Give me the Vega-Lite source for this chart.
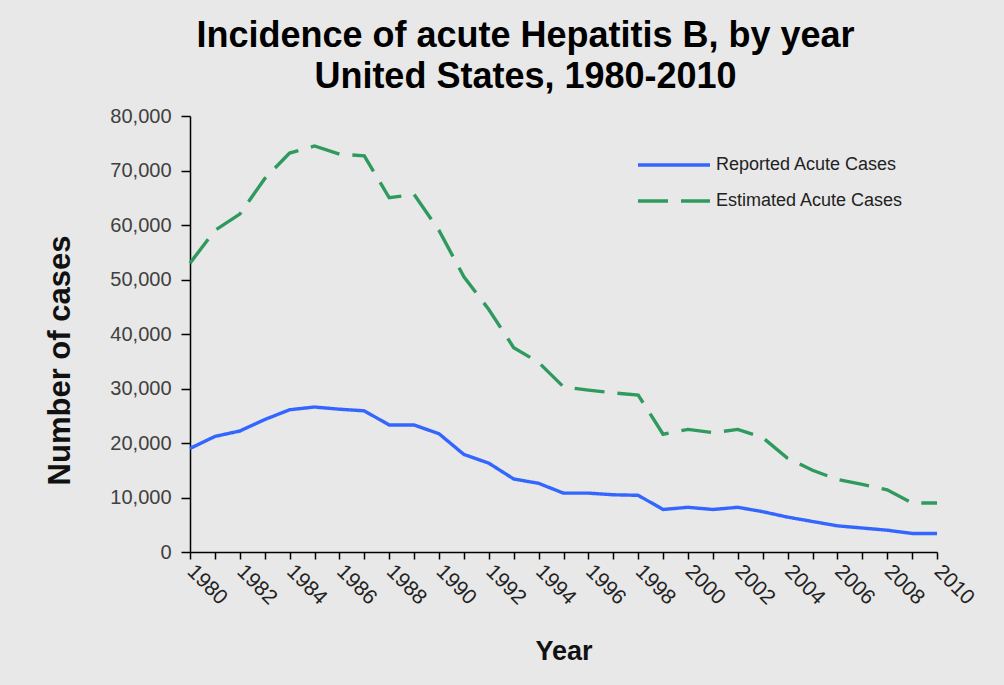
{
  "$schema": "https://vega.github.io/schema/vega-lite/v6.json",
  "width": 747,
  "height": 436,
  "autosize": {"type": "none"},
  "padding": {"left": 190, "top": 116, "right": 67, "bottom": 133},
  "background": "#e8e8e8",
  "config": {
    "view": {"stroke": null},
    "font": "Liberation Sans"
  },
  "title": {
    "text": ["Incidence of acute Hepatitis B, by year", "United States, 1980-2010"],
    "fontSize": 36,
    "fontWeight": "bold",
    "font": "Liberation Sans",
    "color": "#000000",
    "anchor": "middle",
    "dx": -38,
    "offset": 10,
    "lineHeight": 41
  },
  "data": {
    "values": [
      {"year": 1980, "series": "Reported Acute Cases", "cases": 19000},
      {"year": 1981, "series": "Reported Acute Cases", "cases": 21200},
      {"year": 1982, "series": "Reported Acute Cases", "cases": 22200},
      {"year": 1983, "series": "Reported Acute Cases", "cases": 24300},
      {"year": 1984, "series": "Reported Acute Cases", "cases": 26100},
      {"year": 1985, "series": "Reported Acute Cases", "cases": 26600},
      {"year": 1986, "series": "Reported Acute Cases", "cases": 26200},
      {"year": 1987, "series": "Reported Acute Cases", "cases": 25900},
      {"year": 1988, "series": "Reported Acute Cases", "cases": 23300},
      {"year": 1989, "series": "Reported Acute Cases", "cases": 23300},
      {"year": 1990, "series": "Reported Acute Cases", "cases": 21700},
      {"year": 1991, "series": "Reported Acute Cases", "cases": 17900},
      {"year": 1992, "series": "Reported Acute Cases", "cases": 16300},
      {"year": 1993, "series": "Reported Acute Cases", "cases": 13400},
      {"year": 1994, "series": "Reported Acute Cases", "cases": 12600},
      {"year": 1995, "series": "Reported Acute Cases", "cases": 10800},
      {"year": 1996, "series": "Reported Acute Cases", "cases": 10800},
      {"year": 1997, "series": "Reported Acute Cases", "cases": 10500},
      {"year": 1998, "series": "Reported Acute Cases", "cases": 10400},
      {"year": 1999, "series": "Reported Acute Cases", "cases": 7800},
      {"year": 2000, "series": "Reported Acute Cases", "cases": 8200},
      {"year": 2001, "series": "Reported Acute Cases", "cases": 7800},
      {"year": 2002, "series": "Reported Acute Cases", "cases": 8200},
      {"year": 2003, "series": "Reported Acute Cases", "cases": 7400},
      {"year": 2004, "series": "Reported Acute Cases", "cases": 6400},
      {"year": 2005, "series": "Reported Acute Cases", "cases": 5600},
      {"year": 2006, "series": "Reported Acute Cases", "cases": 4800},
      {"year": 2007, "series": "Reported Acute Cases", "cases": 4400},
      {"year": 2008, "series": "Reported Acute Cases", "cases": 4000},
      {"year": 2009, "series": "Reported Acute Cases", "cases": 3400},
      {"year": 2010, "series": "Reported Acute Cases", "cases": 3400},
      {"year": 1980, "series": "Estimated Acute Cases", "cases": 53000},
      {"year": 1981, "series": "Estimated Acute Cases", "cases": 59000},
      {"year": 1982, "series": "Estimated Acute Cases", "cases": 62000},
      {"year": 1983, "series": "Estimated Acute Cases", "cases": 68500},
      {"year": 1984, "series": "Estimated Acute Cases", "cases": 73200},
      {"year": 1985, "series": "Estimated Acute Cases", "cases": 74500},
      {"year": 1986, "series": "Estimated Acute Cases", "cases": 73000},
      {"year": 1987, "series": "Estimated Acute Cases", "cases": 72700},
      {"year": 1988, "series": "Estimated Acute Cases", "cases": 65000},
      {"year": 1989, "series": "Estimated Acute Cases", "cases": 65600},
      {"year": 1990, "series": "Estimated Acute Cases", "cases": 59000},
      {"year": 1991, "series": "Estimated Acute Cases", "cases": 50500},
      {"year": 1992, "series": "Estimated Acute Cases", "cases": 44500},
      {"year": 1993, "series": "Estimated Acute Cases", "cases": 37500},
      {"year": 1994, "series": "Estimated Acute Cases", "cases": 34800},
      {"year": 1995, "series": "Estimated Acute Cases", "cases": 30300},
      {"year": 1996, "series": "Estimated Acute Cases", "cases": 29700},
      {"year": 1997, "series": "Estimated Acute Cases", "cases": 29200},
      {"year": 1998, "series": "Estimated Acute Cases", "cases": 28800},
      {"year": 1999, "series": "Estimated Acute Cases", "cases": 21600},
      {"year": 2000, "series": "Estimated Acute Cases", "cases": 22500},
      {"year": 2001, "series": "Estimated Acute Cases", "cases": 21900},
      {"year": 2002, "series": "Estimated Acute Cases", "cases": 22500},
      {"year": 2003, "series": "Estimated Acute Cases", "cases": 21000},
      {"year": 2004, "series": "Estimated Acute Cases", "cases": 17200},
      {"year": 2005, "series": "Estimated Acute Cases", "cases": 15000},
      {"year": 2006, "series": "Estimated Acute Cases", "cases": 13300},
      {"year": 2007, "series": "Estimated Acute Cases", "cases": 12400},
      {"year": 2008, "series": "Estimated Acute Cases", "cases": 11400},
      {"year": 2009, "series": "Estimated Acute Cases", "cases": 9000},
      {"year": 2010, "series": "Estimated Acute Cases", "cases": 9000}
    ]
  },
  "mark": {"type": "line", "strokeWidth": 3.4, "strokeCap": "butt"},
  "encoding": {
    "x": {
      "field": "year",
      "type": "quantitative",
      "scale": {"domain": [1980, 2010], "nice": false, "zero": false},
      "axis": {
        "title": "Year",
        "titleFontSize": 27,
        "titleFontWeight": "bold",
        "titleColor": "#111111",
        "titlePadding": 30,
        "values": [1980,1981,1982,1983,1984,1985,1986,1987,1988,1989,1990,1991,1992,1993,1994,1995,1996,1997,1998,1999,2000,2001,2002,2003,2004,2005,2006,2007,2008,2009,2010],
        "format": "d",
        "labelExpr": "datum.value % 2 == 0 ? datum.label : ''",
        "labelAngle": 45,
        "labelAlign": "left",
        "labelBaseline": "middle",
        "labelFontSize": 21,
        "labelColor": "#222222",
        "labelPadding": 9,
        "labelOverlap": false,
        "labelFlush": false,
        "grid": false,
        "domainColor": "#000000",
        "domainWidth": 1.5,
        "tickColor": "#000000",
        "tickWidth": 1.5,
        "tickSize": 7
      }
    },
    "y": {
      "field": "cases",
      "type": "quantitative",
      "scale": {"domain": [0, 80000], "nice": false},
      "axis": {
        "title": "Number of cases",
        "titleFontSize": 31,
        "titleFontWeight": "bold",
        "titleColor": "#111111",
        "titlePadding": 33,
        "titleY": 244,
        "values": [0,10000,20000,30000,40000,50000,60000,70000,80000],
        "format": ",d",
        "labelFontSize": 20,
        "labelColor": "#404040",
        "labelPadding": 10,
        "grid": false,
        "domainColor": "#000000",
        "domainWidth": 1.5,
        "tickColor": "#000000",
        "tickWidth": 1.5,
        "tickSize": 9
      }
    },
    "color": {
      "field": "series",
      "type": "nominal",
      "scale": {"domain": ["Reported Acute Cases", "Estimated Acute Cases"], "range": ["#3366ff", "#2e9a5e"]},
      "legend": {
        "title": null,
        "orient": "none",
        "legendX": 464,
        "legendY": 29,
        "symbolType": "M-2,0H2",
        "symbolSize": 1296,
        "symbolStrokeWidth": 3.4,
        "symbolFillColor": "transparent",
        "labelFontSize": 18,
        "labelColor": "#222222",
        "labelOffset": 22,
        "labelLimit": 400,
        "rowPadding": 7
      }
    },
    "strokeDash": {
      "field": "series",
      "type": "nominal",
      "scale": {"domain": ["Reported Acute Cases", "Estimated Acute Cases"], "range": [[1, 0], [30, 13]]},
      "legend": {
        "title": null,
        "orient": "none",
        "legendX": 464,
        "legendY": 29,
        "symbolType": "M-2,0H2",
        "symbolSize": 1296,
        "symbolStrokeWidth": 3.4,
        "symbolFillColor": "transparent",
        "labelFontSize": 18,
        "labelColor": "#222222",
        "labelOffset": 22,
        "labelLimit": 400,
        "rowPadding": 7
      }
    }
  }
}
